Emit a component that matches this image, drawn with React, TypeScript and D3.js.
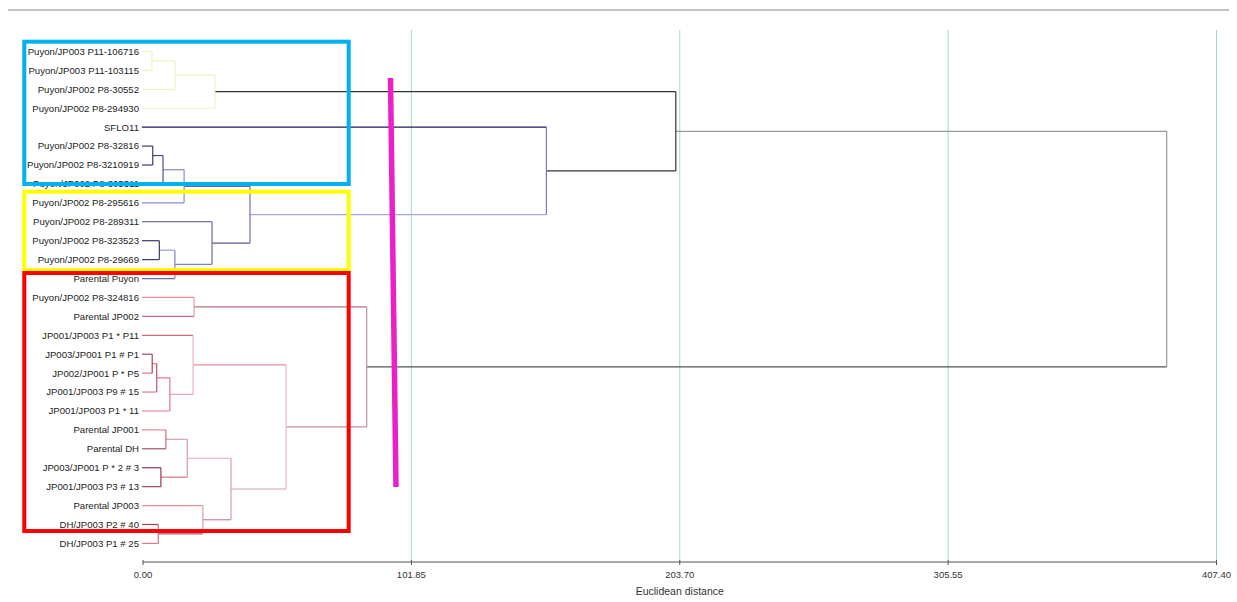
import React from "react";
import * as d3 from "d3";

const W = 1237;
const H = 602;

const leafNames: string[] = [
  "Puyon/JP003 P11-106716",
  "Puyon/JP003 P11-103115",
  "Puyon/JP002 P8-30552",
  "Puyon/JP002 P8-294930",
  "SFLO11",
  "Puyon/JP002 P8-32816",
  "Puyon/JP002 P8-3210919",
  "Puyon/JP002 P8-305511",
  "Puyon/JP002 P8-295616",
  "Puyon/JP002 P8-289311",
  "Puyon/JP002 P8-323523",
  "Puyon/JP002 P8-29669",
  "Parental Puyon",
  "Puyon/JP002 P8-324816",
  "Parental JP002",
  "JP001/JP003 P1 * P11",
  "JP003/JP001 P1 # P1",
  "JP002/JP001 P * P5",
  "JP001/JP003 P9 # 15",
  "JP001/JP003 P1 * 11",
  "Parental JP001",
  "Parental DH",
  "JP003/JP001 P * 2 # 3",
  "JP001/JP003 P3 # 13",
  "Parental JP003",
  "DH/JP003 P2 # 40",
  "DH/JP003 P1 # 25",
];

// merges: ids 0..26 are leaves, merge k gets id 27 + k
const mergeLeft: number[] = [0, 27, 28, 5, 30, 31, 10, 33, 9, 32, 4, 29, 13, 16, 40, 41, 15, 20, 22, 44, 25, 24, 46, 43, 39, 38];
const mergeRight: number[] = [1, 2, 3, 6, 7, 8, 11, 12, 34, 35, 36, 37, 14, 17, 18, 19, 42, 21, 23, 45, 26, 47, 48, 49, 50, 51];
const mergeHeight: number[] = [3.4, 12.1, 27.3, 3.7, 7.6, 15.6, 6.2, 12.1, 26.2, 40.6, 153.1, 202.2, 19.4, 3.5, 5.2, 10.2, 19.0, 8.7, 6.8, 16.8, 5.8, 22.7, 33.4, 54.3, 84.9, 388.5];

const tickValues: number[] = [0, 101.85, 203.7, 305.55, 407.4];
const axisTitle = "Euclidean distance";

// styles (colours of the line leaving each node towards its parent, and of each merge's vertical)
const PY = "#f1f1c4";
const leafColor: string[] = [
  PY, PY, PY, PY,
  "#1e1b5a",
  "#3b3b6e", "#3b3b6e", "#45457a", "#8c8cd0",
  "#50508a", "#3a3a70", "#3a3a70", "#6c6ca0",
  "#e58a98", "#cc6a80", "#c87080", "#a04858", "#e07890", "#e07890", "#ea8aa0",
  "#e68c9c", "#a05060", "#8a3a4a", "#a04858", "#e88ea0", "#a04858", "#e07c90",
];
const mergeVColor: string[] = [
  PY, PY, PY,
  "#3b3b6e", "#505088", "#8a8ac8", "#3a3a70", "#8080c0", "#6a6aa8", "#7070b0", "#7a70d0", "#333333",
  "#e0a0a8", "#a04858", "#c05068", "#e07890", "#f0b0b8", "#c07080", "#903848", "#d89aa2", "#c07080", "#d8a0a8", "#d8a0a8", "#e8b8c0", "#c09098",
  "#9a9a9a",
];
const mergeHColor: string[] = [
  PY, PY, "#333333",
  "#4a4a80", "#8888cc", "#6666a0", "#9a9ade", "#8080c0", "#5a5a90", "#aaa2e8", "#333333", "#9a9a9a",
  "#b87080", "#e87890", "#f07088", "#f0a0b0", "#d890a0", "#e0a0a8", "#d07888", "#e0a8b0", "#a05868", "#c08890", "#d0a0a8", "#c89098", "#555555",
  "none",
];

const x = d3.scaleLinear().domain([0, 407.4]).range([143, 1216.5]);
const yLeaf = d3.scalePoint<string>().domain(leafNames).range([51.5, 543.4]);

type Node = { x: number; y: number; parentX: number | null; hColor: string };

function buildNodes() {
  const n = leafNames.length;
  const nodes: Node[] = [];
  leafNames.forEach((name, i) => {
    nodes.push({ x: x(0), y: yLeaf(name) as number, parentX: null, hColor: leafColor[i] });
  });
  mergeHeight.forEach((h, k) => {
    const a = nodes[mergeLeft[k]];
    const b = nodes[mergeRight[k]];
    const mx = x(h);
    a.parentX = mx;
    b.parentX = mx;
    nodes.push({ x: mx, y: (a.y + b.y) / 2, parentX: null, hColor: mergeHColor[k] });
  });
  return { nodes, n };
}

export default function App() {
  const { nodes, n } = buildNodes();
  const font = "'Liberation Sans', Arial, sans-serif";
  const axisY = 562;

  return (
    <svg
      width={W}
      height={H}
      style={{ position: "absolute", left: 0, top: 0, background: "#fff" }}
      fontFamily={font}
    >
      <rect x={0} y={0} width={W} height={H} fill="#ffffff" />
      {/* top rule */}
      <line x1={8} x2={1229} y1={10} y2={10} stroke="#c4c4c4" strokeWidth={2} />

      {/* grid lines */}
      {tickValues.slice(1).map((t) => (
        <line key={"g" + t} x1={x(t)} x2={x(t)} y1={30} y2={axisY} stroke="#a9dbb7" strokeWidth={1} />
      ))}

      {/* horizontal links */}
      {nodes.map((nd, i) =>
        nd.parentX !== null && nd.hColor !== "none" ? (
          <line key={"h" + i} x1={i < n ? nd.x - 1 : nd.x} x2={nd.parentX} y1={nd.y} y2={nd.y} stroke={nd.hColor} strokeWidth={1.2} />
        ) : null
      )}
      {/* vertical links */}
      {mergeHeight.map((h, k) => {
        const a = nodes[mergeLeft[k]];
        const b = nodes[mergeRight[k]];
        return (
          <line key={"v" + k} x1={x(h)} x2={x(h)} y1={a.y} y2={b.y} stroke={mergeVColor[k]} strokeWidth={1.2} />
        );
      })}

      {/* leaf labels */}
      {leafNames.map((name) => (
        <text
          key={name}
          x={139}
          y={(yLeaf(name) as number) + 3.4}
          textAnchor="end"
          fontSize={9.6}
          fill="#222"
        >
          {name}
        </text>
      ))}

      {/* axis */}
      <line x1={x(0)} x2={x(407.4)} y1={axisY} y2={axisY} stroke="#555" strokeWidth={1} />
      {tickValues.map((t) => (
        <g key={"t" + t}>
          <line x1={x(t)} x2={x(t)} y1={axisY - 2} y2={axisY + 3} stroke="#555" strokeWidth={1} />
          <text x={x(t)} y={578} textAnchor="middle" fontSize={9.5} fill="#333">
            {d3.format(".2f")(t)}
          </text>
        </g>
      ))}
      <text x={x(203.7)} y={595} textAnchor="middle" fontSize={10.5} fill="#333">
        {axisTitle}
      </text>

      {/* annotation boxes */}
      <rect x={24.3} y={41.7} width={324.4} height={142.3} fill="none" stroke="#00b0f0" strokeWidth={4} />
      <rect x={24.3} y={191.7} width={324.4} height={78.3} fill="none" stroke="#ffff00" strokeWidth={4} />
      <rect x={24.3} y={273} width={324.4} height={258} fill="none" stroke="#ff0000" strokeWidth={4} />
      <line x1={390.5} y1={78} x2={396} y2={487} stroke="#ec1fc8" strokeWidth={5.5} />
    </svg>
  );
}
